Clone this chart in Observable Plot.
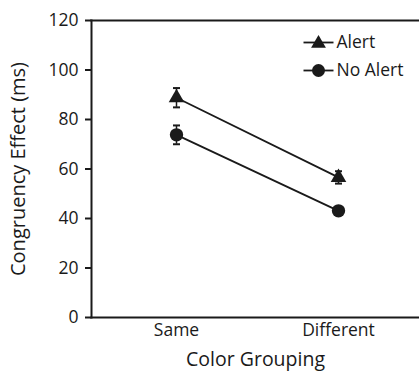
<!DOCTYPE html>
<html><head><meta charset="utf-8">
<script src="https://cdn.jsdelivr.net/npm/d3@7"></script>
<script src="https://cdn.jsdelivr.net/npm/@observablehq/plot@0.6"></script>
<style>body{margin:0;background:#fff}</style>
</head><body><div id="chart"></div>
<script>
const groups = ["Same", "Different"];
const series = ["Alert", "No Alert"];
const alertMeans = [88.8, 56.6];
const alertErr = [3.9, 2.5];
const noAlertMeans = [73.8, 43.1];
const noAlertErr = [3.8, 1.5];
const yTicks = [0, 20, 40, 60, 80, 100, 120];

const data = [];
groups.forEach((g, i) => {
  data.push({group: g, series: "Alert", mean: alertMeans[i], err: alertErr[i]});
  data.push({group: g, series: "No Alert", mean: noAlertMeans[i], err: noAlertErr[i]});
});

const hline = {draw(context, size) { const r = Math.sqrt(size / Math.PI); context.moveTo(-r, 0); context.lineTo(r, 0); }};
const font = "'Open Sans', sans-serif";
const ink = "#1a1a1a";

const chart = Plot.plot({
  width: 419, height: 372,
  marginLeft: 91, marginTop: 20, marginBottom: 55, marginRight: 0,
  style: {fontFamily: font, background: "#fff"},
  x: {type: "point", domain: groups, padding: 0.5, insetLeft: 4},
  y: {domain: [0, 120]},
  marks: [
    Plot.axisX({tickSize: 0, tickPadding: 6, fontSize: 17.5, color: ink, label: null}),
    Plot.axisX({ticks: [], label: "Color Grouping", labelAnchor: "center", labelOffset: 48, fontSize: 19.5, color: ink}),
    Plot.axisY({ticks: yTicks, tickSize: 6, tickPadding: 7, fontSize: 17.5, color: ink, stroke: ink, strokeWidth: 2, label: null}),
    Plot.axisY({ticks: [], label: "Congruency Effect (ms)", labelAnchor: "center", labelArrow: "none", labelOffset: 81, fontSize: 20, color: ink}),
    Plot.frame({anchor: "top", strokeWidth: 2, stroke: ink}),
    Plot.frame({anchor: "bottom", strokeWidth: 2, stroke: ink}),
    Plot.frame({anchor: "left", strokeWidth: 2, stroke: ink}),
    Plot.ruleX(data, {x: "group", y1: d => d.mean - d.err, y2: d => d.mean + d.err, stroke: ink, strokeWidth: 1.5}),
    Plot.dot(data, {x: "group", y: d => d.mean + d.err, symbol: hline, r: 3.5, stroke: ink, strokeWidth: 2}),
    Plot.dot(data, {x: "group", y: d => d.mean - d.err, symbol: hline, r: 3.5, stroke: ink, strokeWidth: 2}),
    Plot.line(data, {x: "group", y: "mean", z: "series", stroke: ink, strokeWidth: 1.8}),
    Plot.dot(data.filter(d => d.series === "Alert"), {x: "group", y: "mean", symbol: "triangle", r: 5.8, fill: ink, stroke: "none"}),
    Plot.dot(data.filter(d => d.series === "No Alert"), {x: "group", y: "mean", symbol: "circle", r: 6.7, fill: ink, stroke: "none"}),
    // legend
    Plot.dot([series[0]], {frameAnchor: "top-right", dx: -101, dy: 22, symbol: hline, r: 15, stroke: ink, strokeWidth: 1.8}),
    Plot.dot([series[1]], {frameAnchor: "top-right", dx: -101, dy: 50, symbol: hline, r: 15, stroke: ink, strokeWidth: 1.8}),
    Plot.dot([series[0]], {frameAnchor: "top-right", dx: -101, dy: 23, symbol: "triangle", r: 5.5, fill: ink}),
    Plot.dot([series[1]], {frameAnchor: "top-right", dx: -101, dy: 50, symbol: "circle", r: 6.5, fill: ink}),
    Plot.text([series[0]], {frameAnchor: "top-right", dx: -83, dy: 22, text: d => d, textAnchor: "start", lineAnchor: "middle", fontSize: 17.5, fill: ink}),
    Plot.text([series[1]], {frameAnchor: "top-right", dx: -83, dy: 50, text: d => d, textAnchor: "start", lineAnchor: "middle", fontSize: 17.5, fill: ink})
  ]
});
document.getElementById("chart").append(chart);
</script></body></html>
